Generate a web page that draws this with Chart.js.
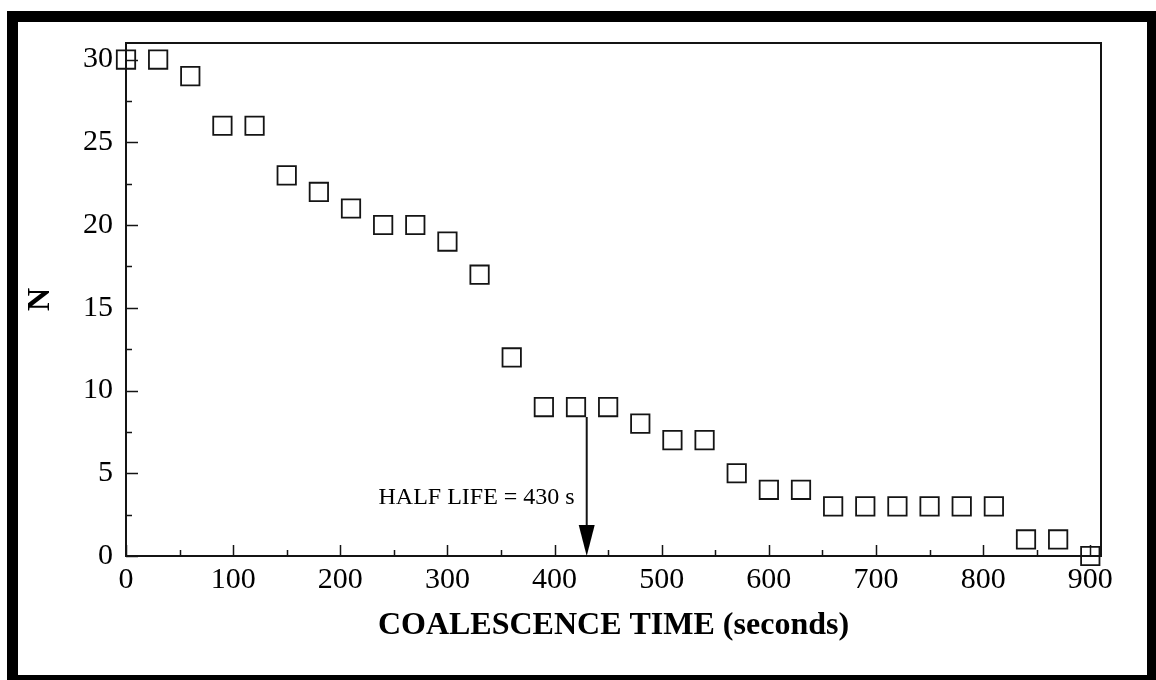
<!DOCTYPE html>
<html>
<head>
<meta charset="utf-8">
<script src="https://cdn.jsdelivr.net/npm/chart.js@4/dist/chart.umd.min.js"></script>
<style>
  html, body { margin: 0; padding: 0; background: #fff; }
  #wrap { width: 1156px; height: 680px; position: relative; }
</style>
</head>
<body>
<div id="wrap"><canvas id="c" width="1156" height="680"></canvas></div>
<script>
// Droplet count N versus coalescence time
const times = [0, 30, 60, 90, 120, 150, 180, 210, 240, 270, 300, 330, 360, 390, 420,
               450, 480, 510, 540, 570, 600, 630, 660, 690, 720, 750, 780, 810, 840, 870, 900];
const counts = [30, 30, 29, 26, 26, 23, 22, 21, 20, 20, 19, 17, 12, 9, 9,
                9, 8, 7, 7, 5, 4, 4, 3, 3, 3, 3, 3, 3, 1, 1, 0];

const xTickValues = [0, 100, 200, 300, 400, 500, 600, 700, 800, 900];
const yTickValues = [0, 5, 10, 15, 20, 25, 30];
const xMinorTicks = [50, 150, 250, 350, 450, 550, 650, 750, 850];
const yMinorTicks = [2.5, 7.5, 12.5, 17.5, 22.5, 27.5];

const halfLife = 430;      // seconds
const arrowTop = 8.4;      // N where the arrow starts
const halfLifeLabel = 'HALF LIFE = ' + halfLife + ' s';

const ink = '#141414';

// Page frame, plot box, inward tick marks and the half-life arrow
const decorations = {
  id: 'decorations',
  beforeDraw(chart) {
    const ctx = chart.ctx;
    ctx.save();
    ctx.fillStyle = '#fff';
    ctx.fillRect(0, 0, chart.width, chart.height);
    ctx.fillStyle = '#000';
    ctx.fillRect(7, 11, 11, 680);      // left bar
    ctx.fillRect(7, 11, 1160, 11);     // top bar
    ctx.fillRect(1147, 11, 20, 680);   // right bar
    ctx.fillRect(7, 675, 1160, 10);    // bottom bar
    ctx.restore();
  },
  afterDraw(chart) {
    const ctx = chart.ctx;
    const a = chart.chartArea;
    const xs = chart.scales.x, ys = chart.scales.y;
    ctx.save();
    ctx.strokeStyle = ink;
    ctx.lineWidth = 2;
    ctx.strokeRect(a.left, a.top, a.right - a.left, a.bottom - a.top);

    ctx.lineWidth = 1.5;
    ctx.beginPath();
    xTickValues.forEach(v => {
      const px = Math.round(xs.getPixelForValue(v)) + 0.5;
      ctx.moveTo(px, a.bottom); ctx.lineTo(px, a.bottom - 11);
    });
    xMinorTicks.forEach(v => {
      const px = Math.round(xs.getPixelForValue(v)) + 0.5;
      ctx.moveTo(px, a.bottom); ctx.lineTo(px, a.bottom - 6);
    });
    yTickValues.forEach(v => {
      const py = Math.round(ys.getPixelForValue(v)) + 0.5;
      ctx.moveTo(a.left, py); ctx.lineTo(a.left + 12, py);
    });
    yMinorTicks.forEach(v => {
      const py = Math.round(ys.getPixelForValue(v)) + 0.5;
      ctx.moveTo(a.left, py); ctx.lineTo(a.left + 6, py);
    });
    ctx.stroke();

    // half-life arrow
    const ax = xs.getPixelForValue(halfLife);
    const y0 = ys.getPixelForValue(arrowTop);
    const y1 = ys.getPixelForValue(0);
    const headH = 31, headW = 16;
    ctx.lineWidth = 2;
    ctx.beginPath();
    ctx.moveTo(ax, y0);
    ctx.lineTo(ax, y1 - headH + 2);
    ctx.stroke();
    ctx.fillStyle = '#000';
    ctx.beginPath();
    ctx.moveTo(ax - headW / 2, y1 - headH);
    ctx.lineTo(ax + headW / 2, y1 - headH);
    ctx.lineTo(ax, y1);
    ctx.closePath();
    ctx.fill();

    ctx.fillStyle = '#000';
    ctx.font = '24px "Liberation Serif", "Times New Roman", serif';
    ctx.textAlign = 'right';
    ctx.textBaseline = 'middle';
    ctx.fillText(halfLifeLabel, ax - 12, 498);
    ctx.restore();
  }
};

new Chart(document.getElementById('c'), {
  type: 'scatter',
  data: {
    datasets: [{
      data: times.map((t, i) => ({ x: t, y: counts[i] })),
      pointStyle: 'rect',
      pointRadius: 13,
      pointHoverRadius: 13,
      borderColor: ink,
      backgroundColor: 'rgba(0,0,0,0)',
      borderWidth: 1.8,
      clip: false
    }]
  },
  options: {
    responsive: false,
    animation: false,
    events: [],
    layout: { padding: { top: 43, right: 55, left: 0, bottom: 0 } },
    plugins: { legend: { display: false }, tooltip: { enabled: false } },
    scales: {
      x: {
        type: 'linear',
        min: 0, max: 910,
        afterFit(s) { s.height = 124; },
        afterBuildTicks(s) { s.ticks = xTickValues.map(v => ({ value: v })); },
        grid: { display: false, drawTicks: false },
        border: { display: false },
        ticks: {
          padding: 6,
          color: '#000',
          maxRotation: 0,
          autoSkip: false,
          font: { family: '"Liberation Serif", "Times New Roman", serif', size: 30 }
        },
        title: {
          display: true,
          text: 'COALESCENCE TIME (seconds)',
          color: '#000',
          padding: { top: 0, bottom: 38 },
          font: { family: '"Liberation Serif", "Times New Roman", serif', size: 32, weight: 'bold', lineHeight: 1 }
        }
      },
      y: {
        type: 'linear',
        min: 0, max: 31,
        afterFit(s) { s.width = 126; },
        afterBuildTicks(s) { s.ticks = yTickValues.map(v => ({ value: v })); },
        grid: { display: false, drawTicks: false },
        border: { display: false },
        ticks: {
          padding: 13,
          color: '#000',
          autoSkip: false,
          font: { family: '"Liberation Serif", "Times New Roman", serif', size: 30 }
        },
        title: {
          display: true,
          text: 'N',
          color: '#000',
          padding: { top: 25, bottom: 0 },
          font: { family: '"Liberation Serif", "Times New Roman", serif', size: 32, weight: 'bold', lineHeight: 1 }
        }
      }
    }
  },
  plugins: [decorations]
});
</script>
</body>
</html>
